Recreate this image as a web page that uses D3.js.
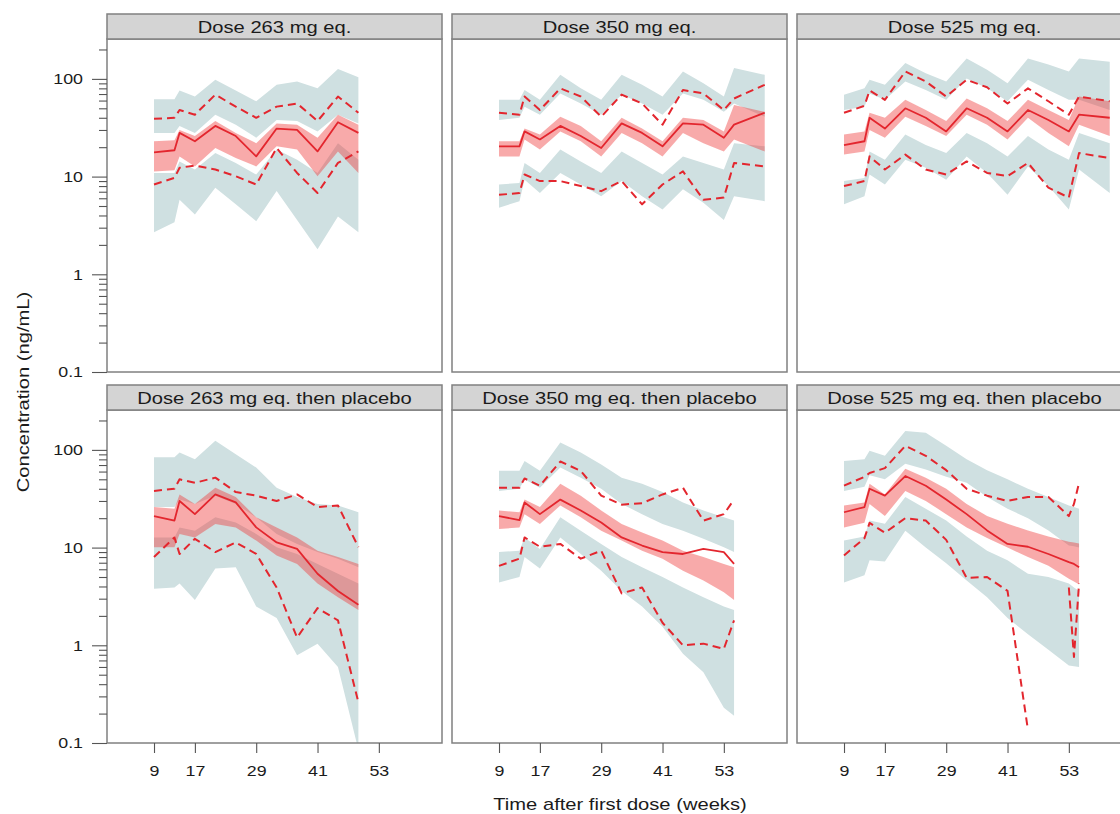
<!DOCTYPE html>
<html>
<head>
<meta charset="utf-8">
<script src="https://cdn.jsdelivr.net/npm/d3@7"></script>
<style>
  body { margin: 0; background: #fff; }
  text { font-family: "Liberation Sans", Arial, Helvetica, sans-serif; }
</style>
</head>
<body>
<svg id="chart" width="1120" height="814"></svg>
<script>
// ---- sampling times (weeks after first dose) ----
const weeks263  = [9, 13, 14, 17, 21, 25, 29, 33, 37, 41, 45, 49];
const weeks350  = [9, 13, 14, 17, 21, 25, 29, 33, 37, 41, 45, 49, 53, 55, 61];
const weeks525  = [9, 13, 14, 17, 21, 25, 29, 33, 37, 41, 45, 49, 53, 55, 61];
const weeks263p = [9, 13, 14, 17, 21, 25, 29, 33, 37, 41, 45, 49];
const weeks350p = [9, 13, 14, 17, 21, 25, 29, 33, 37, 41, 45, 49, 53, 55];
const weeks525p = [9, 13, 14, 17, 21, 25, 29, 33, 37, 41, 45, 49, 53, 54, 55];

// ---- Dose 263 mg eq. ----
const pi95Top_263 = [62, 62, 76, 66, 98, 76, 59, 87, 94, 80, 126, 104];
const pi95Bot_263 = [28, 28, 33, 28, 43, 34, 25, 38, 37, 29, 43, 35];
const pi50Top_263 = [23, 23.5, 30, 26, 37, 28, 22, 35, 34, 25, 43, 34];
const pi50Bot_263 = [11.3, 11.6, 16.1, 12.7, 19.6, 15.5, 12.7, 20.4, 18.9, 10.1, 18.1, 10.9];
const pi5Top_263  = [10.9, 10.9, 14.3, 11.8, 17.4, 13.8, 10.5, 18.9, 14.9, 10.9, 22, 14.9];
const pi5Bot_263  = [2.7, 3.4, 5.8, 4.1, 7.7, 5.2, 3.5, 7.1, 3.6, 1.8, 3.9, 2.7];
const obs95_263   = [39, 40, 48, 43, 69, 52, 40, 52, 56, 37, 66, 45];
const obs50_263   = [17.7, 18.6, 28, 23, 33, 26, 16.1, 31, 30, 18.1, 36, 28];
const obs5_263    = [8.3, 9.7, 12.3, 13, 11.8, 10.1, 8.3, 19.6, 10.9, 6.8, 13.8, 18.1];

// ---- Dose 350 mg eq. ----
const pi95Top_350 = [61, 61, 77, 61, 110, 80, 61, 110, 87, 66, 119, 90, 66, 129, 110];
const pi95Bot_350 = [38, 40, 52, 43, 71, 56, 43, 69, 56, 43, 71, 61, 46, 56, 41];
const pi50Top_350 = [23, 23, 31, 27, 41, 33, 23, 40, 31, 23, 40, 38, 29, 54, 46];
const pi50Bot_350 = [16.1, 16.1, 24, 18.9, 29, 23, 16.1, 28, 22, 16.1, 28, 22, 18.1, 24, 18.1];
const pi5Top_350  = [8.3, 8.6, 13.8, 10.9, 18.9, 14.3, 10.9, 18.1, 13.8, 10.5, 16.1, 13.8, 11.8, 22, 20.4];
const pi5Bot_350  = [4.8, 5.6, 9.3, 6.8, 10.9, 8.3, 6.3, 9.0, 6.3, 4.6, 7.4, 5.4, 3.6, 6.3, 5.6];
const obs95_350   = [45, 43, 66, 48, 80, 66, 41, 69, 56, 34, 77, 71, 48, 63, 87];
const obs50_350   = [20.4, 20.4, 29, 24, 33, 26, 19.6, 35, 28, 20.4, 35, 34, 25, 34, 45];
const obs5_350    = [6.5, 6.8, 10.5, 9.0, 9.0, 8.0, 7.1, 9.0, 5.2, 8.3, 11.3, 5.8, 6.1, 13.8, 12.7];

// ---- Dose 525 mg eq. ----
const pi95Top_525 = [69, 80, 98, 87, 145, 114, 94, 162, 124, 90, 162, 140, 119, 162, 150];
const pi95Bot_525 = [48, 52, 71, 61, 94, 77, 61, 101, 80, 59, 98, 77, 61, 61, 48];
const pi50Top_525 = [27, 29, 45, 40, 61, 48, 37, 63, 50, 37, 61, 48, 38, 66, 59];
const pi50Bot_525 = [16.8, 18.1, 30, 25, 41, 33, 26, 43, 34, 24, 40, 28, 20.4, 34, 26];
const pi5Top_525  = [9.0, 9.7, 18.1, 14.9, 27, 21, 17.4, 28, 22, 16.1, 26, 18.9, 14.9, 28, 22];
const pi5Bot_525  = [5.2, 6.3, 10.5, 8.3, 14.9, 12.3, 9.3, 16.1, 10.9, 6.5, 12.7, 8.0, 4.6, 11.8, 6.8];
const obs95_525   = [45, 53, 76, 61, 119, 94, 66, 98, 82, 56, 80, 59, 43, 66, 59];
const obs50_525   = [21, 23, 40, 31, 50, 40, 29, 50, 40, 29, 48, 38, 29, 43, 40];
const obs5_525    = [8.0, 9.0, 16.1, 11.8, 16.8, 11.8, 10.5, 14.3, 10.9, 10.1, 13.8, 7.7, 6.1, 17.4, 15.5];

// ---- Dose 263 mg eq. then placebo ----
const pi95Top_263p = [84, 84, 94, 80, 124, 90, 66, 41, 33, 28, 27, 23];
const pi95Bot_263p = [26, 26, 31, 28, 34, 28, 20.4, 13.8, 10.9, 9.0, 7.7, 6.3];
const pi50Top_263p = [26, 25, 35, 28, 41, 33, 20.4, 16.1, 12.7, 9.3, 8.0, 6.8];
const pi50Bot_263p = [10.1, 10.1, 13.8, 12.7, 17.4, 16.1, 11.8, 8.3, 6.8, 4.3, 3.1, 2.3];
const pi5Top_263p  = [12.7, 12.7, 16.1, 14.9, 20.4, 18.1, 13.8, 10.1, 8.6, 6.8, 5.4, 4.3];
const pi5Bot_263p  = [3.8, 3.9, 4.3, 2.9, 6.1, 6.3, 2.5, 1.9, 0.79, 1.04, 0.60, 0.085];
const obs95_263p   = [38, 40, 50, 46, 52, 37, 34, 30, 35, 26, 27, 10.1];
const obs50_263p   = [21, 18.9, 30, 22, 35, 29, 16.1, 11.3, 9.7, 5.4, 3.6, 2.6];
const obs5_263p    = [8.0, 12.7, 8.6, 12.3, 9.0, 11.3, 8.6, 3.9, 1.2, 2.4, 1.8, 0.26];

// ---- Dose 350 mg eq. then placebo ----
const pi95Top_350p = [61, 61, 77, 61, 119, 94, 71, 52, 45, 37, 29, 24, 20.4, 18.9];
const pi95Bot_350p = [38, 40, 50, 41, 66, 52, 40, 28, 22, 17.4, 14.9, 12.3, 10.1, 9.0];
const pi50Top_350p = [24, 23, 31, 26, 45, 34, 24, 17.4, 14.3, 11.8, 9.3, 8.0, 6.8, 6.3];
const pi50Bot_350p = [15.5, 16.1, 22, 17.4, 27, 20.4, 14.9, 11.8, 9.3, 7.7, 5.8, 4.6, 3.5, 2.9];
const pi5Top_350p  = [9.0, 9.3, 12.7, 9.7, 20.4, 14.9, 10.9, 8.0, 6.3, 5.0, 3.9, 3.1, 2.5, 2.3];
const pi5Bot_350p  = [4.4, 5.0, 8.0, 6.1, 12.7, 8.6, 5.8, 3.6, 2.5, 1.55, 0.82, 0.53, 0.23, 0.19];
const obs95_350p   = [41, 41, 51, 43, 76, 61, 34, 27.5, 28.5, 35, 41, 18.9, 22, 31];
const obs50_350p   = [21, 19.1, 29, 22, 31, 24, 18.1, 12.7, 10.5, 9.0, 8.6, 9.7, 9.0, 6.8];
const obs5_350p    = [6.5, 7.7, 12.7, 10.2, 10.9, 7.7, 9.3, 3.4, 3.9, 1.7, 1.0, 1.04, 0.92, 1.8];

// ---- Dose 525 mg eq. then placebo ----
const pi95Top_525p = [77, 80, 98, 87, 156, 150, 110, 80, 62, 50, 40, 33, 27, 26, 25];
const pi95Bot_525p = [38, 42, 55, 50, 72, 63, 53, 46, 33, 25, 20, 15, 10.5, 10.3, 10];
const pi50Top_525p = [27, 29, 45, 35, 64, 52, 40, 28, 21, 17.5, 15, 13, 11.5, 11.3, 11];
const pi50Bot_525p = [16.1, 18, 28, 21, 38, 30, 22, 16.1, 12.5, 10, 8, 6.5, 4.8, 4.5, 4.2];
const pi5Top_525p  = [11.8, 13, 18.9, 17.5, 33, 25, 18.9, 13, 9.3, 7.4, 5.4, 5.0, 4.3, 3.9, 3.6];
const pi5Bot_525p  = [4.4, 5.2, 7.4, 7.2, 14.9, 10, 6.9, 4.6, 3.1, 1.9, 1.3, 0.9, 0.62, 0.61, 0.6];
const obs95_525p   = [43, 53, 58, 65, 110, 87, 62, 40, 34, 30, 33, 33, 21, 28, 46];
const obs50_525p   = [23, 26, 40, 34, 54, 43, 31, 22, 15, 10.9, 10.2, 8.6, 7.1, 6.8, 6.3];
const obs5_525p    = [8.3, 12.5, 17.9, 14.2, 20, 18.9, 12, 4.9, 5.0, 3.6, 0.136, null, 3.9, 0.76, 4.3];

// ---- axis ticks ----
const xTicks = [9, 17, 29, 41, 53];
const yMajorTicks = [0.1, 1, 10, 100];
const yMajorLabels = ["0.1", "1", "10", "100"];
const yMinorTicks = [0.2, 0.3, 0.4, 0.5, 0.6, 0.7, 0.8, 0.9,
                     2, 3, 4, 5, 6, 7, 8, 9,
                     20, 30, 40, 50, 60, 70, 80, 90, 200];

const panels = [
  { title: "Dose 263 mg eq.", col: 0, row: 0, weeks: weeks263,
    pi95: [pi95Top_263, pi95Bot_263], pi50: [pi50Top_263, pi50Bot_263], pi5: [pi5Top_263, pi5Bot_263],
    obs: [obs95_263, obs50_263, obs5_263] },
  { title: "Dose 350 mg eq.", col: 1, row: 0, weeks: weeks350,
    pi95: [pi95Top_350, pi95Bot_350], pi50: [pi50Top_350, pi50Bot_350], pi5: [pi5Top_350, pi5Bot_350],
    obs: [obs95_350, obs50_350, obs5_350] },
  { title: "Dose 525 mg eq.", col: 2, row: 0, weeks: weeks525,
    pi95: [pi95Top_525, pi95Bot_525], pi50: [pi50Top_525, pi50Bot_525], pi5: [pi5Top_525, pi5Bot_525],
    obs: [obs95_525, obs50_525, obs5_525] },
  { title: "Dose 263 mg eq. then placebo", col: 0, row: 1, weeks: weeks263p,
    pi95: [pi95Top_263p, pi95Bot_263p], pi50: [pi50Top_263p, pi50Bot_263p], pi5: [pi5Top_263p, pi5Bot_263p],
    obs: [obs95_263p, obs50_263p, obs5_263p] },
  { title: "Dose 350 mg eq. then placebo", col: 1, row: 1, weeks: weeks350p,
    pi95: [pi95Top_350p, pi95Bot_350p], pi50: [pi50Top_350p, pi50Bot_350p], pi5: [pi5Top_350p, pi5Bot_350p],
    obs: [obs95_350p, obs50_350p, obs5_350p] },
  { title: "Dose 525 mg eq. then placebo", col: 2, row: 1, weeks: weeks525p,
    pi95: [pi95Top_525p, pi95Bot_525p], pi50: [pi50Top_525p, pi50Bot_525p], pi5: [pi5Top_525p, pi5Bot_525p],
    obs: [obs95_525p, obs50_525p, obs5_525p] }
];

// ---- layout & styles ----
const panelW = 335, panelH = 333, stripH = 25;
const colLeft = [107, 452, 797];
const rowTop = [39, 410];
const BLUE = "#cfe0e1";
const RED = "#ee3b3b";
const LINE = "#e3262e";
const FRAME = "#808080";
const TEXT = "#1b1b1b";

const x = d3.scaleLinear().domain([-0.2, 65.36]).range([0, panelW]);
const y = d3.scaleLog().domain([0.1, 256]).range([panelH, 0]);

const svg = d3.select("#chart");
svg.append("rect").attr("width", 1120).attr("height", 814).attr("fill", "#fff");

const area = d3.area()
  .x(d => x(d.w)).y0(d => y(d.lo)).y1(d => y(d.hi));
const line = d3.line()
  .defined(d => d.v != null)
  .x(d => x(d.w)).y(d => y(d.v));

panels.forEach((p, i) => {
  const g = svg.append("g")
    .attr("transform", `translate(${colLeft[p.col]},${rowTop[p.row]})`);

  g.append("clipPath").attr("id", "plotclip" + i)
    .append("rect").attr("width", panelW).attr("height", panelH);
  const plot = g.append("g").attr("clip-path", `url(#plotclip${i})`);

  const band = ([top, bot]) => p.weeks.map((w, k) => ({ w, hi: top[k], lo: bot[k] }));
  const series = vals => p.weeks.map((w, k) => ({ w, v: vals[k] }));

  // simulated prediction intervals
  plot.append("path").datum(band(p.pi95)).attr("d", area).attr("fill", BLUE);
  plot.append("path").datum(band(p.pi5)).attr("d", area).attr("fill", BLUE);
  plot.append("path").datum(band(p.pi50)).attr("d", area)
    .attr("fill", RED).attr("fill-opacity", 0.43);

  // observed percentiles
  const [o95, o50, o5] = p.obs;
  [o95, o5].forEach(vals => {
    plot.append("path").datum(series(vals)).attr("d", line)
      .attr("fill", "none").attr("stroke", LINE).attr("stroke-width", 2)
      .attr("stroke-dasharray", "8,5").attr("stroke-linejoin", "round");
  });
  plot.append("path").datum(series(o50)).attr("d", line)
    .attr("fill", "none").attr("stroke", LINE).attr("stroke-width", 1.8)
    .attr("stroke-linejoin", "round");

  // panel frame and strip
  g.append("rect").attr("width", panelW).attr("height", panelH)
    .attr("fill", "none").attr("stroke", FRAME).attr("stroke-width", 1.5);
  g.append("rect").attr("y", -stripH).attr("width", panelW).attr("height", stripH)
    .attr("fill", "#d4d4d4").attr("stroke", FRAME).attr("stroke-width", 1.5);
  g.append("text")
    .attr("transform", `translate(${panelW / 2},${-stripH / 2 + 6}) scale(1.26,1)`)
    .attr("text-anchor", "middle").attr("font-size", 16).attr("fill", TEXT)
    .text(p.title);

  // y axis on the left column
  if (p.col === 0) {
    const yMajor = g.append("g").call(
      d3.axisLeft(y).tickValues(yMajorTicks).tickSize(15).tickPadding(9)
        .tickFormat((d, k) => yMajorLabels[k]));
    const yMinor = g.append("g").call(
      d3.axisLeft(y).tickValues(yMinorTicks).tickSize(8).tickFormat(""));
    [yMajor, yMinor].forEach(a => {
      a.select(".domain").remove();
      a.selectAll(".tick line").attr("stroke", "#555").attr("stroke-width", 1.1);
    });
    yMajor.selectAll(".tick text")
      .attr("font-size", 15.5).attr("font-family", null).attr("fill", TEXT)
      .attr("x", -24 / 1.15).attr("transform", "scale(1.15,1)");
  }

  // x axis on the bottom row
  if (p.row === 1) {
    const xa = g.append("g").attr("transform", `translate(0,${panelH})`).call(
      d3.axisBottom(x).tickValues(xTicks).tickSize(10).tickPadding(12));
    xa.select(".domain").remove();
    xa.selectAll(".tick line").attr("stroke", "#555").attr("stroke-width", 1.1);
    xa.selectAll(".tick text")
      .attr("font-size", 15.5).attr("font-family", null).attr("fill", TEXT)
      .attr("transform", "scale(1.15,1)");
  }
});

// axis titles
svg.append("text")
  .attr("transform", "translate(620,810) scale(1.26,1)")
  .attr("text-anchor", "middle").attr("font-size", 16).attr("fill", TEXT)
  .text("Time after first dose (weeks)");
svg.append("text")
  .attr("transform", "translate(29,392) rotate(-90) scale(1.26,1)")
  .attr("text-anchor", "middle").attr("font-size", 16).attr("fill", TEXT)
  .text("Concentration (ng/mL)");
</script>
</body>
</html>
